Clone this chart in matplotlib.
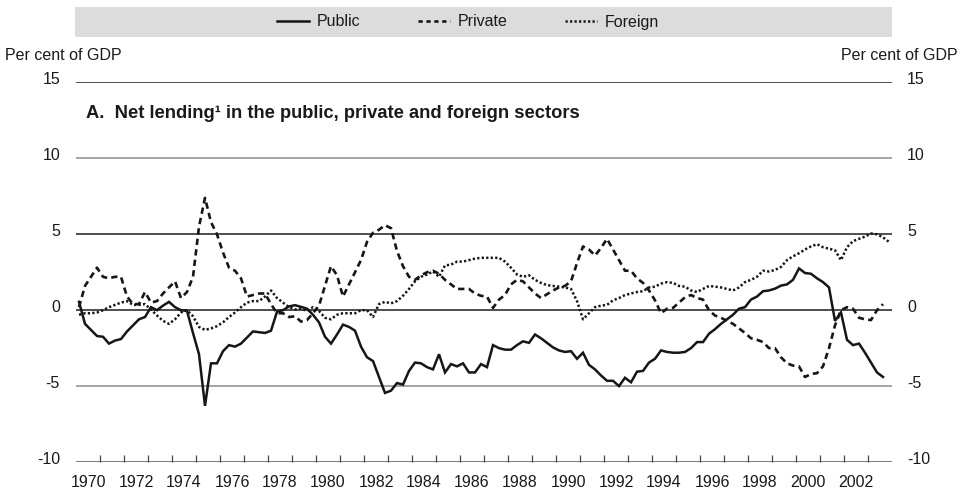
import numpy as np
import matplotlib
matplotlib.use('Agg')
import matplotlib.pyplot as plt
import matplotlib.transforms as mtransforms
from matplotlib.patches import Rectangle
from matplotlib.lines import Line2D

plt.rcParams['font.family'] = ['Liberation Sans', 'DejaVu Sans']

# quarterly series, first observation 1970Q1 (per cent of GDP)
FIRST_YEAR = 1970
public = [
    0.55, -0.9, -1.3, -1.7, -1.75, -2.2, -2.0, -1.9, -1.4, -1.0, -0.6, -0.45,
    0.2, 0.0, 0.3, 0.55, 0.2, 0.0, -0.05, -1.5, -2.9, -6.3, -3.5, -3.5,
    -2.7, -2.3, -2.4, -2.2, -1.8, -1.4, -1.45, -1.5, -1.35, -0.1, 0.0, 0.25,
    0.33, 0.22, 0.1, -0.3, -0.8, -1.75, -2.2, -1.6, -0.95, -1.1, -1.35, -2.4,
    -3.1, -3.35, -4.4, -5.45, -5.3, -4.8, -4.9, -4.0, -3.45, -3.5, -3.75, -3.9,
    -2.9, -4.1, -3.55, -3.7, -3.5, -4.1, -4.1, -3.55, -3.75, -2.3, -2.5, -2.6,
    -2.6, -2.3, -2.05, -2.15, -1.6, -1.85, -2.15, -2.45, -2.65, -2.75, -2.7, -3.2,
    -2.8, -3.6, -3.9, -4.3, -4.65, -4.65, -5.0, -4.45, -4.75, -4.05, -4.0, -3.45,
    -3.2, -2.65, -2.75, -2.8, -2.8, -2.75, -2.5, -2.1, -2.1, -1.55, -1.25, -0.9,
    -0.6, -0.3, 0.1, 0.2, 0.7, 0.9, 1.25, 1.3, 1.42, 1.62, 1.7, 2.0,
    2.75, 2.45, 2.4, 2.1, 1.85, 1.5, -0.7, -0.15, -1.95, -2.3, -2.2, -2.8,
    -3.45, -4.1, -4.4,
]
private = [
    0.2, 1.6, 2.2, 2.8, 2.2, 2.1, 2.2, 2.2, 0.9, 0.4, 0.4, 1.2,
    0.5, 0.6, 1.1, 1.5, 1.9, 0.8, 1.2, 2.2, 5.5, 7.4, 5.8, 5.0,
    3.8, 2.8, 2.6, 2.1, 0.9, 1.0, 1.1, 1.1, 0.4, -0.2, -0.2, -0.45,
    -0.4, -0.75, -0.65, -0.2, 0.3, 1.6, 2.9, 2.3, 0.9, 1.7, 2.5, 3.3,
    4.5, 5.1, 5.3, 5.6, 5.4, 3.9, 2.9, 2.2, 2.0, 2.3, 2.5, 2.6,
    2.4, 2.0, 1.7, 1.4, 1.4, 1.4, 1.1, 0.95, 0.9, 0.15, 0.7, 1.0,
    1.7, 2.0, 1.9, 1.5, 1.1, 0.8, 1.05, 1.3, 1.5, 1.6, 1.9, 3.1,
    4.2, 4.0, 3.6, 4.1, 4.7, 4.0, 3.3, 2.6, 2.6, 2.1, 1.8, 1.3,
    0.65, -0.2, 0.1, 0.15, 0.5, 0.85, 1.0, 0.8, 0.7, 0.0, -0.35, -0.5,
    -0.7, -0.9, -1.2, -1.5, -1.85, -1.95, -2.1, -2.5, -2.5, -3.1, -3.5, -3.65,
    -3.7, -4.4, -4.2, -4.15, -3.7, -2.5, -1.0, 0.0, 0.2, 0.1, -0.5, -0.6,
    -0.65, 0.0, 0.4,
]
foreign = [
    -0.3, -0.2, -0.2, -0.15, 0.0, 0.2, 0.35, 0.5, 0.6, 0.35, 0.35, 0.4,
    0.05, -0.35, -0.7, -0.9, -0.6, -0.15, 0.0, -0.4, -1.1, -1.3, -1.2, -1.05,
    -0.8, -0.45, -0.15, 0.2, 0.5, 0.6, 0.6, 0.9, 1.3, 0.8, 0.5, 0.2,
    0.05, 0.1, -0.05, 0.2, -0.05, -0.5, -0.6, -0.3, -0.2, -0.2, -0.2, 0.0,
    0.0, -0.45, 0.4, 0.55, 0.45, 0.6, 0.95, 1.4, 1.9, 2.2, 2.35, 2.55,
    2.2, 2.95, 3.0, 3.2, 3.2, 3.3, 3.4, 3.45, 3.45, 3.45, 3.45, 3.2,
    2.8, 2.35, 2.2, 2.3, 2.0, 1.8, 1.65, 1.6, 1.55, 1.5, 1.4, 0.6,
    -0.6, -0.2, 0.2, 0.3, 0.35, 0.65, 0.8, 1.0, 1.1, 1.2, 1.25, 1.5,
    1.55, 1.75, 1.85, 1.8, 1.6, 1.55, 1.3, 1.2, 1.4, 1.6, 1.55, 1.5,
    1.4, 1.3, 1.5, 1.85, 2.0, 2.2, 2.6, 2.55, 2.65, 2.85, 3.3, 3.55,
    3.75, 4.0, 4.2, 4.35, 4.15, 4.05, 3.95, 3.3, 4.15, 4.55, 4.7, 4.85,
    5.05, 5.0, 4.8, 4.5,
]
year_labels = [str(y) for y in range(1970, 2003, 2)]
y_ticks = [-10, -5, 0, 5, 10, 15]
grid_colors = ['#555555', '#8c8c8c', '#1e1e1e', '#1e1e1e', '#8c8c8c', '#1e1e1e']


def quarter_x(n):
    # mid-quarter positions
    return FIRST_YEAR + 0.125 + 0.25 * np.arange(n)


W, H = 961, 490
fig = plt.figure(figsize=(W / 100, H / 100), dpi=100)
ax = fig.add_axes([76 / W, 28 / H, 816 / W, 379.5 / H])
ax.set_xlim(1970, 2004)
ax.set_ylim(-10, 15)
for sp in ax.spines.values():
    sp.set_visible(False)

for v, c in zip(y_ticks, grid_colors):
    ax.axhline(v, color=c, lw=1.1, zorder=1)

ink = '#161616'
ax.plot(quarter_x(len(public)), public, color=ink, lw=1.8, zorder=3,
        solid_joinstyle='miter')
ax.plot(quarter_x(len(private)), private, color=ink, lw=1.9, zorder=3,
        dashes=(2.4, 1.6))
ax.plot(quarter_x(len(foreign)), foreign, color=ink, lw=1.8, zorder=3,
        dashes=(0.9, 0.9))

# year ticks inside, labels centred on even years
ax.set_xticks(np.arange(1971, 2004))
ax.set_xticklabels([])
ax.tick_params(axis='x', which='major', direction='in', length=5.2,
               width=0.9, color='#444444')
ax.set_xticks(np.arange(1970, 2003, 2) + 0.5, minor=True)
ax.set_xticklabels(year_labels, minor=True)
ax.tick_params(axis='x', which='minor', length=0, pad=9, labelsize=11.5,
               labelcolor='#1a1a1a')
ax.set_yticks([])

trans = mtransforms.blended_transform_factory(ax.transAxes, ax.transData)
left_t = mtransforms.offset_copy(trans, fig=fig, x=-16, y=-2, units='dots')
right_t = mtransforms.offset_copy(trans, fig=fig, x=15, y=-2, units='dots')
for v in y_ticks:
    ax.text(0, v, str(v), transform=left_t, ha='right', va='baseline',
            fontsize=11.5, color='#1a1a1a', clip_on=False)
    ax.text(1, v, str(v), transform=right_t, ha='left', va='baseline',
            fontsize=11.5, color='#1a1a1a', clip_on=False)

fig.text(5 / W, 1 - 56 / H, 'Per cent of GDP', ha='left', va='center',
         fontsize=11.5, color='#1a1a1a')
fig.text(958 / W, 1 - 56 / H, 'Per cent of GDP', ha='right', va='center',
         fontsize=11.5, color='#1a1a1a')

fig.text(86 / W, 1 - 118 / H,
         'A.  Net lending\u00b9 in the public, private and foreign sectors',
         ha='left', va='baseline', fontsize=13.2, fontweight='bold',
         color='#1a1a1a')

# legend band
fig.patches.append(Rectangle((75 / W, 1 - 37 / H), 817 / W, 30 / H,
                             transform=fig.transFigure, facecolor='#dcdcdc',
                             edgecolor='none', zorder=0))
handles = [
    Line2D([], [], color=ink, lw=1.8),
    Line2D([], [], color=ink, lw=1.9, dashes=(1.6, 1.4)),
    Line2D([], [], color=ink, lw=1.8, dashes=(0.9, 0.9)),
]
fig.legend(handles, ['Public', 'Private', 'Foreign'], loc='center',
           bbox_to_anchor=(468 / W, 1 - 22 / H), ncol=3, frameon=False,
           fontsize=11.5, handlelength=2.0, handletextpad=0.5,
           columnspacing=3.6, labelcolor='#1a1a1a')

fig.savefig('out.png', dpi=100)
